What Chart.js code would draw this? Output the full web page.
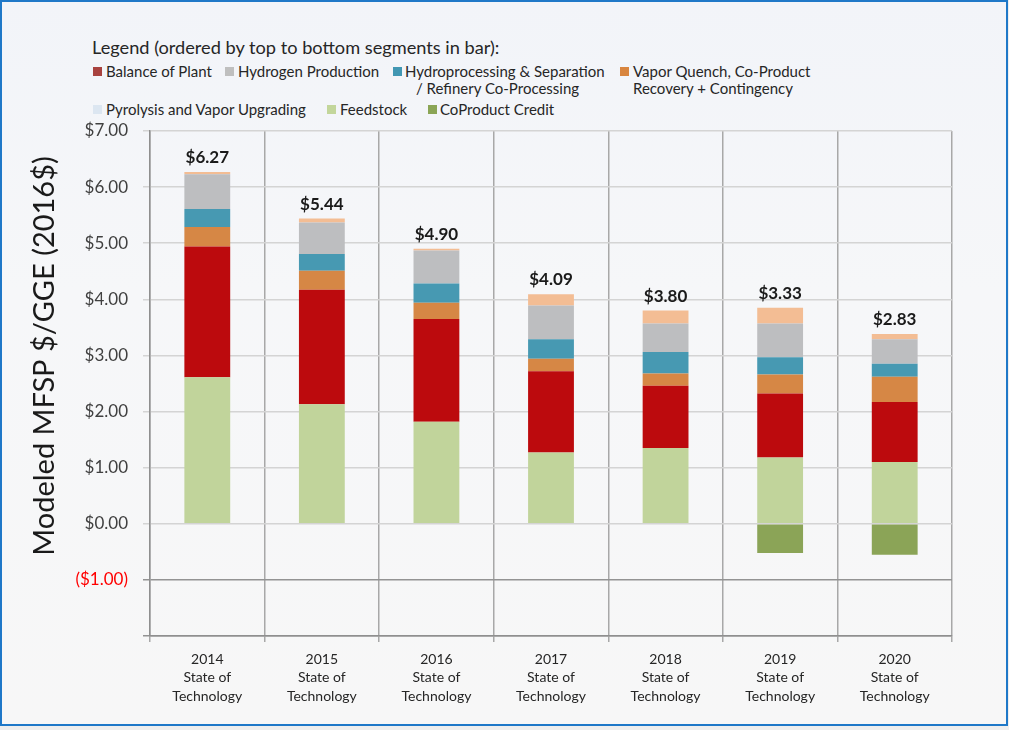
<!DOCTYPE html>
<html>
<head>
<meta charset="utf-8">
<script src="https://cdn.jsdelivr.net/npm/chart.js@4.4.1/dist/chart.umd.min.js"></script>
<style>
  html, body { margin:0; padding:0; width:1009px; height:730px; background:#eeeeee; overflow:hidden; }
  #frame { position:absolute; left:0; top:0; width:1008px; height:726px; box-sizing:border-box;
           border:2px solid #1f78c8; background:linear-gradient(#f2f4f9 0%, #f6f7f9 40%, #f7f7f7 100%); }
  #c { position:absolute; left:0; top:0; }
  .lg { position:absolute; font-family:Lato, "Liberation Sans", sans-serif; color:#262626; white-space:nowrap; font-size:15px; line-height:18px; }
  .sw { position:absolute; width:9px; height:9px; }
</style>
</head>
<body>
<div id="frame"></div>
<div id="legend"></div>
<canvas id="c" width="1009" height="730"></canvas>
<script>
// ---- data ----
const years = ['2014', '2015', '2016', '2017', '2018', '2019', '2020'];
const feedstock      = [2.61, 2.13, 1.82, 1.27, 1.35, 1.18, 1.10];
const pyrolysis      = [2.33, 2.04, 1.83, 1.45, 1.11, 1.14, 1.07];
const vaporQuench    = [0.35, 0.34, 0.29, 0.22, 0.22, 0.34, 0.45];
const hydroprocess   = [0.32, 0.30, 0.34, 0.35, 0.38, 0.31, 0.23];
const hydrogen       = [0.62, 0.56, 0.59, 0.60, 0.51, 0.60, 0.44];
const balanceOfPlant = [0.04, 0.07, 0.03, 0.20, 0.23, 0.28, 0.09];
const coProduct      = [0, 0, 0, 0, 0, -0.52, -0.55];
const totals         = [6.27, 5.44, 4.90, 4.09, 3.80, 3.33, 2.83];
const yTicks = [-2, -1, 0, 1, 2, 3, 4, 5, 6, 7];

const legendTitle = 'Legend (ordered by top to bottom segments in bar):';
const legendItems = [
  { lines:['Balance of Plant'], color:'#a8423f', sx:93, tx:106, y:71 },
  { lines:['Hydrogen Production'], color:'#bfbfbf', sx:225, tx:238, y:71 },
  { lines:['Hydroprocessing & Separation', '/ Refinery Co-Processing'], color:'#4197b3', sx:393, tx:405, x2:416, y:71 },
  { lines:['Vapor Quench, Co-Product', 'Recovery + Contingency'], color:'#d8853f', sx:620, tx:633, x2:633, y:71 },
  { lines:['Pyrolysis and Vapor Upgrading'], color:'#dce6f1', sx:93, tx:106, y:109 },
  { lines:['Feedstock'], color:'#c3d69b', sx:327, tx:340, y:109 },
  { lines:['CoProduct Credit'], color:'#8ba556', sx:428, tx:440, y:109 }
];

// ---- HTML legend ----
const lg = document.getElementById('legend');
let h = '<div class="lg" style="left:92px;top:36px;font-size:18.2px;line-height:22px;">' + legendTitle + '</div>';
legendItems.forEach(it => {
  h += '<div class="sw" style="left:' + it.sx + 'px;top:' + (it.y - 4.5) + 'px;background:' + it.color + '"></div>';
  h += '<div class="lg" style="left:' + it.tx + 'px;top:' + (it.y - 9) + 'px;">' + it.lines[0].replace('&','&amp;') + '</div>';
  if (it.lines[1]) h += '<div class="lg" style="left:' + it.x2 + 'px;top:' + (it.y + 8) + 'px;">' + it.lines[1] + '</div>';
});
lg.innerHTML = h;

const FONT = 'Lato, "Liberation Sans", sans-serif';

const yTitlePlugin = {
  id:'yTitle',
  afterDraw(chart){
    const ctx = chart.ctx;
    ctx.save();
    ctx.translate(45, 356);
    ctx.rotate(-Math.PI/2);
    ctx.font = '29px ' + FONT;
    ctx.fillStyle = '#1a1a1a';
    ctx.textAlign = 'center';
    ctx.textBaseline = 'middle';
    ctx.fillText('Modeled MFSP $/GGE (2016$)', 0, 0);
    ctx.restore();
  }
};

const totalsPlugin = {
  id:'totals',
  afterDatasetsDraw(chart){
    const ctx = chart.ctx;
    const meta = chart.getDatasetMeta(5);
    ctx.save();
    ctx.font = 'bold 17px ' + FONT;
    ctx.fillStyle = '#1a1a1a';
    ctx.textAlign = 'center';
    ctx.textBaseline = 'bottom';
    meta.data.forEach((bar, i) => {
      ctx.fillText('$' + totals[i].toFixed(2), bar.x, bar.y - 6);
    });
    ctx.restore();
  }
};

const ds = (label, data, color) => ({ label, data, backgroundColor: color, borderWidth: 0,
  barPercentage: 0.4, categoryPercentage: 1.0 });

new Chart(document.getElementById('c'), {
  type:'bar',
  data:{
    labels: years.map(y => [y, 'State of', 'Technology']),
    datasets:[
      ds('Feedstock', feedstock, '#c1d49b'),
      ds('Pyrolysis and Vapor Upgrading', pyrolysis, '#bc0a0d'),
      ds('Vapor Quench, Co-Product Recovery + Contingency', vaporQuench, '#d68745'),
      ds('Hydroprocessing & Separation / Refinery Co-Processing', hydroprocess, '#4799b2'),
      ds('Hydrogen Production', hydrogen, '#bdbec0'),
      ds('Balance of Plant', balanceOfPlant, '#f3bd94'),
      ds('CoProduct Credit', coProduct, '#8ba457')
    ]
  },
  options:{
    responsive:false,
    animation:false,
    layout:{ padding:{ top:131, right:57, left:0, bottom:0 } },
    plugins:{ legend:{ display:false }, tooltip:{ enabled:false } },
    scales:{
      x:{
        stacked:true,
        grid:{ offset:true, color:'#a8a8a8', lineWidth:1.5, tickLength:6, drawOnChartArea:true },
        border:{ color:'#8f8f8f', width:1.5 },
        ticks:{ font:{ family:FONT, size:14, lineHeight:1.33 }, color:'#262626', padding:8, maxRotation:0, autoSkip:false },
        afterFit(scale){ scale.height = 94; }
      },
      y:{
        stacked:true,
        min:-2, max:7,
        afterBuildTicks(scale){ scale.ticks = yTicks.map(v => ({ value:v })); },
        grid:{
          color: c => (c.tick && c.tick.value < 0) ? '#939393' : '#d4d4d4',
          lineWidth: 1.5, tickLength:7
        },
        border:{ color:'#8f8f8f', width:1.5 },
        ticks:{
          font:{ family:FONT, size:17 },
          color: c => (c.tick && c.tick.value < 0) ? '#ff0000' : '#404040',
          padding:15,
          callback: v => v === -2 ? '' : (v < 0 ? '($' + Math.abs(v).toFixed(2) + ')' : '$' + v.toFixed(2))
        },
        afterFit(scale){ scale.width = 150; }
      }
    }
  },
  plugins:[yTitlePlugin, totalsPlugin]
});
</script>
</body>
</html>
